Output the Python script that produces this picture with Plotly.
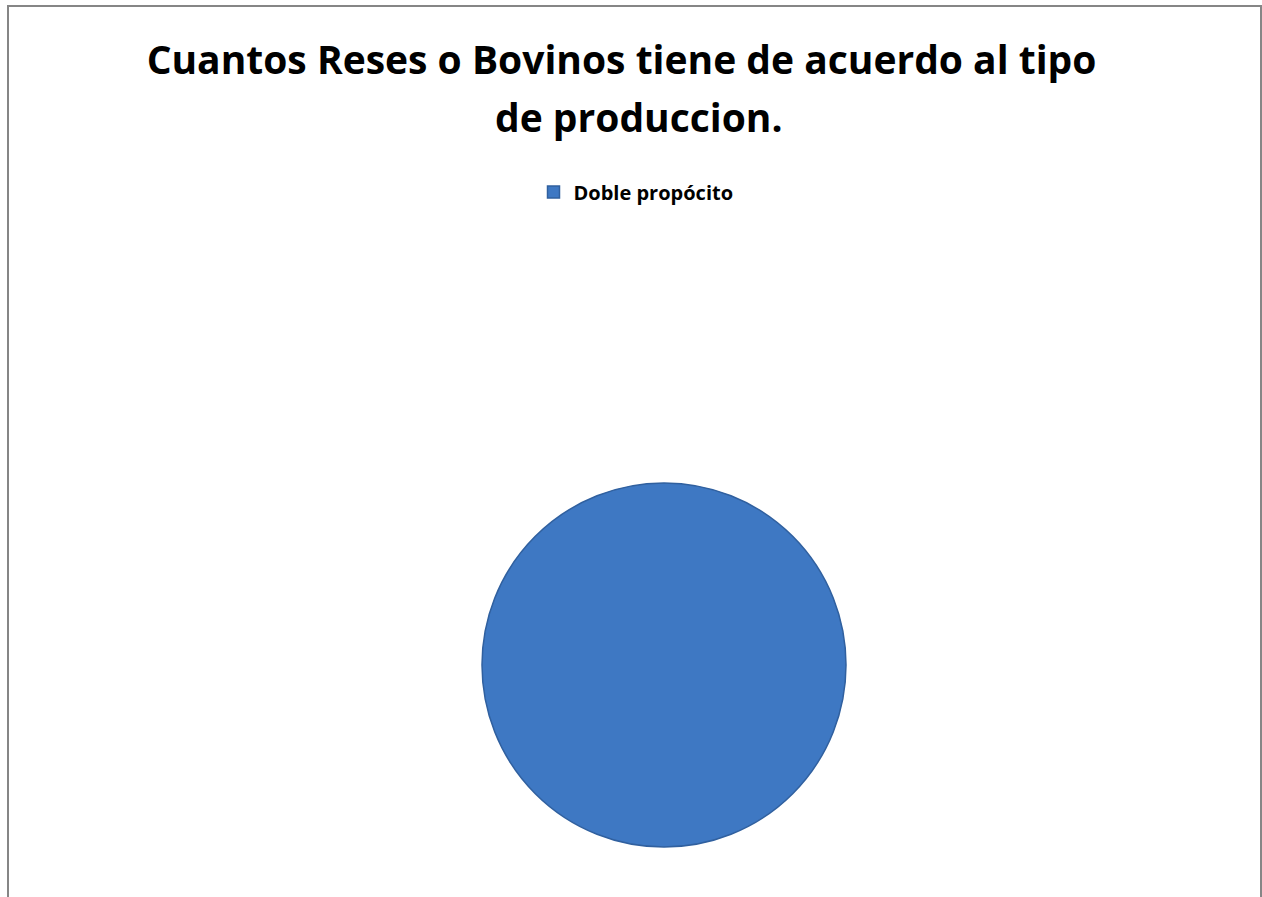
import plotly.graph_objects as go

categories = ["Doble propócito"]
values = [1]
title_lines = ["Cuantos Reses o Bovinos tiene de acuerdo al tipo", "de produccion."]

W, H = 1262, 897

fig = go.Figure(
    go.Pie(
        labels=categories,
        values=values,
        marker=dict(colors=["#3E78C3"], line=dict(color="#30609f", width=1.5)),
        textinfo="none",
        sort=False,
        direction="clockwise",
        showlegend=True,
        domain=dict(x=[(664 - 182) / W, (664 + 182) / W], y=[1 - 847 / H, 1 - 483 / H]),
    )
)

title_font = dict(family="Open Sans", size=39, color="black", weight="bold")

fig.update_layout(
    width=W,
    height=H,
    margin=dict(l=0, r=0, t=0, b=0),
    paper_bgcolor="white",
    plot_bgcolor="white",
    title=dict(
        text=title_lines[0],
        x=621.5 / W,
        xanchor="center",
        y=1 - 60 / H,
        yanchor="middle",
        yref="paper",
        font=title_font,
    ),
    annotations=[
        dict(text=title_lines[1], xref="paper", yref="paper", x=639 / W, y=1 - 116 / H,
             xanchor="center", yanchor="middle", showarrow=False, font=title_font),
    ],
    legend=dict(
        orientation="h",
        x=636 / W,
        xanchor="center",
        y=1 - 192 / H,
        yanchor="middle",
        font=dict(family="Open Sans", size=20, color="black", weight="bold"),
        itemwidth=30,
    ),
    shapes=[
        dict(type="rect", xref="paper", yref="paper", x0=8 / W, x1=1261 / W, y0=-0.05, y1=1 - 6 / H,
             line=dict(color="#868686", width=2), fillcolor="rgba(0,0,0,0)", layer="below"),
    ],
)

fig.write_html(
    "out.html",
    config={"displayModeBar": False},
    post_script="document.body.style.margin='0';document.body.style.overflow='hidden';",
)
